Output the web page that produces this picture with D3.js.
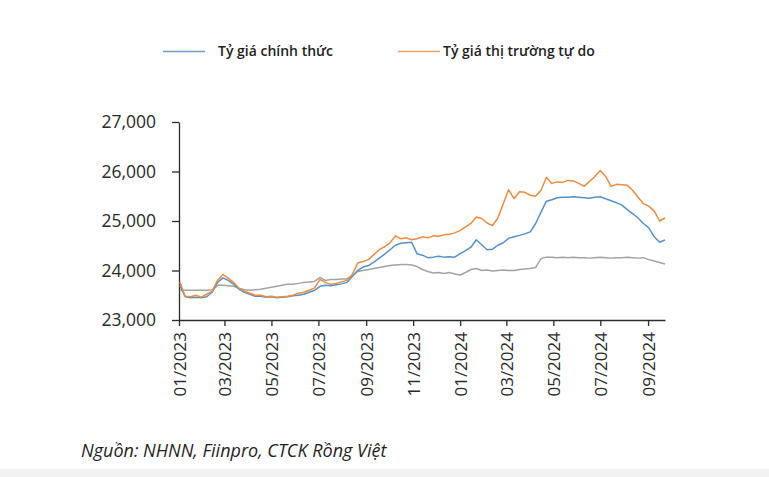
<!DOCTYPE html>
<html><head><meta charset="utf-8">
<script src="https://cdn.jsdelivr.net/npm/d3@7"></script>
<style>
html,body{margin:0;padding:0;background:#fff;}
svg{display:block;}
</style></head>
<body>
<svg id="c" width="769" height="477"></svg>
<script>
// Weekly observations (Mondays) starting 2023-01-02
const startDate = "2023-01-02";
const weekCount = 91;
const seriesNames = ["Tỷ giá chính thức", "Tỷ giá thị trường tự do"];
const officialRate = [23700,23470,23450,23460,23450,23470,23560,23760,23850,23800,
 23720,23620,23560,23520,23480,23480,23460,23470,23450,23460,
 23470,23490,23500,23520,23560,23600,23680,23700,23690,23710,
 23730,23760,23880,24000,24070,24100,24170,24250,24330,24420,
 24510,24550,24560,24570,24340,24310,24260,24270,24290,24270,
 24280,24270,24340,24400,24470,24620,24520,24420,24430,24510,
 24560,24650,24680,24710,24740,24780,24950,25180,25400,25430,
 25470,25480,25480,25490,25480,25470,25460,25480,25490,25450,
 25410,25370,25320,25230,25150,25060,24950,24860,24680,24570,24620];
const freeMarketRate = [23770,23480,23470,23500,23460,23520,23580,23800,23920,23840,
 23760,23640,23580,23540,23500,23500,23470,23480,23460,23470,
 23480,23500,23540,23560,23600,23650,23820,23760,23720,23740,
 23770,23800,23920,24150,24180,24220,24320,24420,24480,24560,
 24700,24640,24660,24620,24640,24680,24660,24700,24690,24720,
 24730,24760,24810,24880,24950,25080,25050,24960,24910,25060,
 25350,25630,25450,25590,25580,25520,25500,25620,25880,25760,
 25790,25780,25820,25810,25760,25700,25800,25900,26020,25900,
 25700,25740,25730,25720,25620,25480,25350,25300,25200,25000,25060];
const centralRate = [23600,23600,23600,23600,23600,23600,23610,23700,23700,23690,
 23680,23640,23610,23600,23610,23620,23640,23660,23680,23700,
 23720,23720,23740,23760,23770,23780,23860,23800,23820,23820,
 23830,23830,23900,23980,24000,24020,24040,24060,24080,24100,
 24110,24120,24120,24110,24080,24020,23980,23950,23960,23940,
 23960,23930,23910,23960,24020,24040,24000,24010,23990,24000,
 24010,24000,24000,24020,24030,24040,24060,24240,24270,24270,
 24260,24270,24260,24270,24260,24260,24250,24260,24270,24260,
 24250,24260,24260,24270,24260,24250,24260,24220,24190,24160,24130];
const yTicks = [23000,24000,25000,26000,27000];
const xTickDates = ["2023-01-01","2023-03-01","2023-05-01","2023-07-01","2023-09-01","2023-11-01",
 "2024-01-01","2024-03-01","2024-05-01","2024-07-01","2024-09-01"];
const sourceText = "Nguồn: NHNN, Fiinpro, CTCK Rồng Việt";

const parse = d3.timeParse("%Y-%m-%d");
const t0 = parse(startDate);
const dates = d3.range(weekCount).map(i => d3.timeDay.offset(t0, 7*i));

const svg = d3.select("#c");
const font = "'Open Sans', 'Noto Sans', sans-serif";
const axisColor = "#2b2b2b";

svg.append("rect").attr("x",0).attr("y",469).attr("width",769).attr("height",8).attr("fill","#f2f2f2");

const x = d3.scaleTime().domain([parse("2023-01-01"), parse("2024-09-23")]).range([179, 665]);
const y = d3.scaleLinear().domain([23000, 27000]).range([320, 122]);

// Axes
const yAxis = d3.axisLeft(y).tickValues(yTicks).tickSize(7).tickSizeOuter(0).tickPadding(16)
  .tickFormat(d3.format(","));
const gy = svg.append("g").attr("transform","translate(179,0)").call(yAxis);
gy.selectAll("text").attr("font-family",font).attr("font-size","17.5px").attr("fill","#2a2a2a");
gy.selectAll("line,path").attr("stroke",axisColor).attr("stroke-width",1.3);

const xAxis = d3.axisBottom(x).tickValues(xTickDates.map(parse)).tickSize(6).tickSizeOuter(0)
  .tickFormat(d3.timeFormat("%m/%Y"));
const gx = svg.append("g").attr("transform","translate(0,320)").call(xAxis);
gx.selectAll("line,path").attr("stroke",axisColor).attr("stroke-width",1.3);
gx.selectAll("text")
  .attr("font-family",font).attr("font-size","17px").attr("fill","#2a2a2a")
  .attr("text-anchor","end").attr("transform","rotate(-90)")
  .attr("x",-12).attr("y",0).attr("dy","0.36em");

// Lines
const series = [
  {vals: centralRate, color: "#a3a3a3"},
  {vals: officialRate, color: "#5592cc"},
  {vals: freeMarketRate, color: "#ef8c3c"}
];
const line = d3.line().x((d,i)=>x(dates[i])).y(d=>y(d)).curve(d3.curveLinear);
series.forEach(s => {
  svg.append("path").datum(s.vals).attr("d", line)
    .attr("fill","none").attr("stroke", s.color).attr("stroke-width",1.5)
    .attr("stroke-linejoin","round");
});

// Legend
const legend = [
  {name: seriesNames[0], color: "#6f9cc6", x: 163, tx: 218},
  {name: seriesNames[1], color: "#eda565", x: 398, tx: 443}
];
legend.forEach(l => {
  svg.append("line").attr("x1",l.x).attr("x2",l.x+42).attr("y1",51.5).attr("y2",51.5)
    .attr("stroke",l.color).attr("stroke-width",1.5);
  svg.append("text").attr("x",l.tx).attr("y",51.5).attr("dy","0.35em")
    .attr("font-family",font).attr("font-size","14px").attr("font-weight",600).attr("fill","#1e1e1e")
    .text(l.name);
});

svg.append("text").attr("x",81).attr("y",457)
  .attr("font-family",font).attr("font-size","18px").attr("font-style","italic").attr("fill","#1e1e1e")
  .text(sourceText);
</script>
</body></html>
